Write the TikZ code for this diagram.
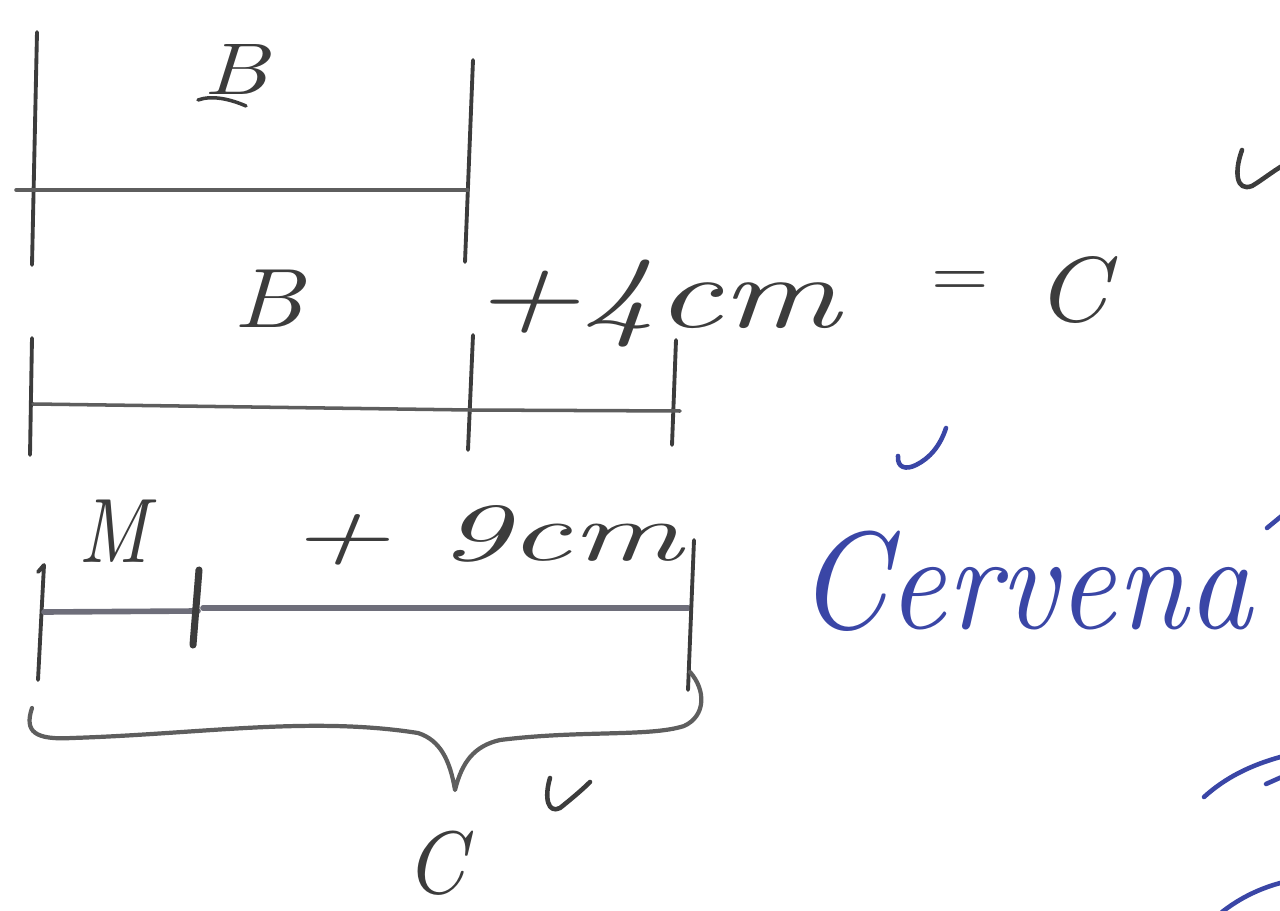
\documentclass[tikz,border=0pt]{standalone}
\usepackage{graphicx}
\definecolor{ink}{HTML}{3C3C3C}
\definecolor{rulec}{HTML}{5E5E5E}
\definecolor{barc}{HTML}{6E6E7A}
\definecolor{pen}{HTML}{3A46A6}
\begin{document}
\begin{tikzpicture}[x=0.02cm,y=-0.02cm, line cap=round, line join=round,
  bar/.style={draw=rulec,line width=2pt},
  thickbar/.style={draw=barc,line width=3.2pt},
  tick/.style={draw=ink,line width=2.2pt},
  heavytick/.style={draw=ink,line width=4pt},
  brace/.style={draw=rulec,line width=2.4pt},
  check/.style={draw=ink,line width=2.6pt},
  bluestroke/.style={draw=pen,line width=2.6pt},
  hand/.style={inner sep=0pt,outer sep=0pt,text=ink,font=\itshape,anchor=base west},
  bluehand/.style={inner sep=0pt,outer sep=0pt,text=pen,font=\itshape,anchor=base west}]
\useasboundingbox (0,0) rectangle (1280,911);
\clip (0,0) rectangle (1280,911);

% ---------- labels ----------
\node[hand] (B1) at (203,95) {\resizebox{1.3cm}{1.0cm}{B}};
\node[hand] (B2) at (233,328) {\resizebox{1.4cm}{1.15cm}{B}};
\node[hand] (plus4) at (470,328) {\resizebox{7.4cm}{1.35cm}{+4cm}};
\node[inner sep=0pt,text=ink] (eq) at (960,284) {\resizebox{1.15cm}{0.5cm}{=}};
\node[hand] (C1) at (1035,322) {\resizebox{1.45cm}{1.3cm}{C}};
\node[hand] (M) at (78,562) {\resizebox{1.4cm}{1.25cm}{M}};
\node[hand] (plus9) at (287,560) {\resizebox{7.9cm}{1.1cm}{+ 9cm}};
\node[hand] (C2) at (405,893) {\resizebox{1.2cm}{1.25cm}{C}};
\node[bluehand] (cerv) at (797,628) {\resizebox{9.1cm}{1.95cm}{Cervena}};

% underline stroke of top B
\draw[check,line width=2pt] (198,100) .. controls (212,95) and (230,99) .. (246,106);

% ---------- bar 1 ----------
\coordinate (a1t) at (37,32);
\coordinate (a1b) at (32,265);
\coordinate (a1h) at (16,190);
\coordinate (r1t) at (473,60);
\coordinate (r1b) at (465,262);
\coordinate (r1h) at (468,190);
\draw[tick] (a1t) -- (a1b);
\draw[tick] (r1t) -- (r1b);
\draw[bar] (a1h) -- (r1h);

% ---------- bar 2 ----------
\coordinate (a2t) at (32,338);
\coordinate (a2b) at (30,455);
\coordinate (a2h) at (33,404);
\coordinate (m2t) at (473,335);
\coordinate (m2b) at (468,450);
\coordinate (m2h) at (470,410);
\coordinate (r2t) at (676,340);
\coordinate (r2b) at (672,445);
\coordinate (r2h) at (680,411);
\draw[tick] (a2t) -- (a2b);
\draw[tick] (m2t) -- (m2b);
\draw[tick] (r2t) -- (r2b);
\draw[bar] (a2h) -- (m2h) -- (r2h);

% ---------- bar 3 ----------
\coordinate (a3t) at (44,565);
\coordinate (a3b) at (38,680);
\coordinate (a3h) at (44,612);
\coordinate (m3t) at (199,570);
\coordinate (m3b) at (193,645);
\coordinate (m3h) at (198,611);
\coordinate (r3t) at (694,540);
\coordinate (r3b) at (688,690);
\coordinate (r3h) at (688,608);
\draw[tick] (38,572) -- (a3t) -- (a3b);
\draw[thickbar] (a3h) -- (m3h);
\draw[thickbar] (203,608) -- (r3h);
\draw[heavytick] (m3t) -- (m3b);
\draw[tick] (r3t) -- (r3b);

% ---------- brace ----------
\coordinate (brL) at (32,708);
\coordinate (brTip) at (455,790);
\coordinate (brR) at (690,672);
\draw[brace] (brL) .. controls (24,732) and (35,740) .. (72,738)
  .. controls (200,734) and (310,716) .. (418,733)
  .. controls (440,740) and (450,760) .. (brTip)
  .. controls (462,762) and (474,746) .. (500,740)
  .. controls (580,730) and (650,737) .. (684,726)
  .. controls (706,716) and (706,690) .. (brR);

% ---------- check marks ----------
\draw[check] (1242,150) .. controls (1234,172) and (1236,192) .. (1252,186)
  .. controls (1262,180) and (1272,172) .. (1282,166);
\draw[check] (550,778) .. controls (544,798) and (548,814) .. (560,808)
  .. controls (570,800) and (582,790) .. (590,782);
\draw[bluestroke] (898,456) .. controls (897,468) and (906,470) .. (916,465)
  .. controls (930,458) and (940,446) .. (946,428);

% ---------- blue fragments at right edge ----------
\draw[bluestroke] (1267,528) -- (1284,514);
\draw[bluestroke] (1204,797) .. controls (1225,778) and (1250,765) .. (1284,756);
\draw[bluestroke] (1266,784) -- (1284,776);
\draw[bluestroke] (1222,912) .. controls (1240,898) and (1260,888) .. (1284,882);
\end{tikzpicture}
\end{document}
